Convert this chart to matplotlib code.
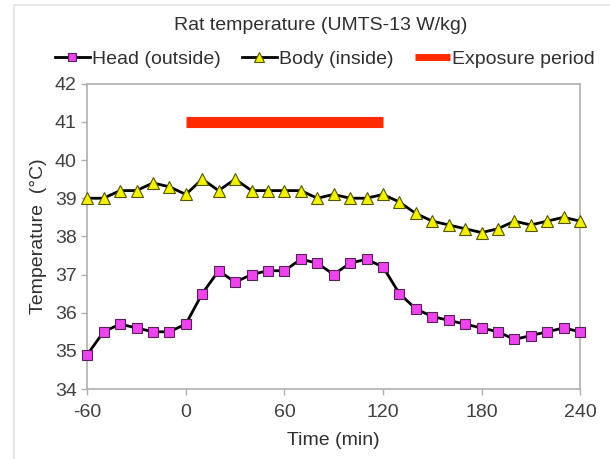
import matplotlib.pyplot as plt
from matplotlib.patches import Rectangle

plt.rcParams['font.family'] = ['Liberation Sans', 'DejaVu Sans']
plt.rcParams['axes.unicode_minus'] = False

# time points (min) and measured temperatures (°C)
time = list(range(-60, 241, 10))
head = [34.9, 35.5, 35.7, 35.6, 35.5, 35.5, 35.7, 36.5, 37.1, 36.8, 37.0,
        37.1, 37.1, 37.4, 37.3, 37.0, 37.3, 37.4, 37.2, 36.5, 36.1, 35.9,
        35.8, 35.7, 35.6, 35.5, 35.3, 35.4, 35.5, 35.6, 35.5]
body = [39.0, 39.0, 39.2, 39.2, 39.4, 39.3, 39.1, 39.5, 39.2, 39.5, 39.2,
        39.2, 39.2, 39.2, 39.0, 39.1, 39.0, 39.0, 39.1, 38.9, 38.6, 38.4,
        38.3, 38.2, 38.1, 38.2, 38.4, 38.3, 38.4, 38.5, 38.4]
exposure_t = [0, 120]
exposure_y = [41, 41]

fig = plt.figure(figsize=(6.10, 4.59), dpi=100)
ax = fig.add_axes([0.143, 0.1525, 0.808, 0.665])

# thin grey frame around the whole figure
fig.patches.append(Rectangle((0.023, -0.01), 1.0, 1.0, transform=fig.transFigure,
                             fill=False, edgecolor='#e4e4e4', lw=1.2))

ax.plot(time, head, color='black', lw=2, marker='s', markersize=7,
        markerfacecolor='#ee44ee', markeredgecolor='#552255', markeredgewidth=0.8,
        label='Head (outside)', clip_on=False, zorder=3)
ax.plot(time, body, color='black', lw=2, marker='^', markersize=8,
        markerfacecolor='#f2f200', markeredgecolor='#555500', markeredgewidth=0.8,
        label='Body (inside)', clip_on=False, zorder=3)
ax.plot(exposure_t, exposure_y, color='#ff2a00', lw=8, solid_capstyle='butt',
        label='Exposure period')

ax.set_xlim(-60, 240)
ax.set_ylim(34, 42)
ax.set_xticks(range(-60, 241, 60))
ax.set_yticks(range(34, 43))

for s in ax.spines.values():
    s.set_color('#b0b0b0')
    s.set_linewidth(1.2)
ax.tick_params(colors='#b0b0b0', labelcolor='#404040', labelsize=14,
               length=4, width=1)
ax.tick_params(axis='x', pad=7)

ax.set_xlabel('Time (min)', fontsize=14, color='#303030', labelpad=8)
ax.set_ylabel('Temperature  (°C)', fontsize=14, color='#303030', labelpad=6)

fig.text(0.525, 0.945, 'Rat temperature (UMTS-13 W/kg)', ha='center',
         va='center', fontsize=14, color='#303030')

leg = fig.legend(loc='center', bbox_to_anchor=(0.532, 0.872), ncol=3,
                 frameon=False, fontsize=14, handlelength=1.8,
                 handletextpad=0.1, columnspacing=1.1, borderaxespad=0,
                 markerscale=0.9)
for t in leg.get_texts():
    t.set_color('#303030')
leg.get_lines()[2].set_linewidth(5)

fig.savefig('out.png', dpi=100)
